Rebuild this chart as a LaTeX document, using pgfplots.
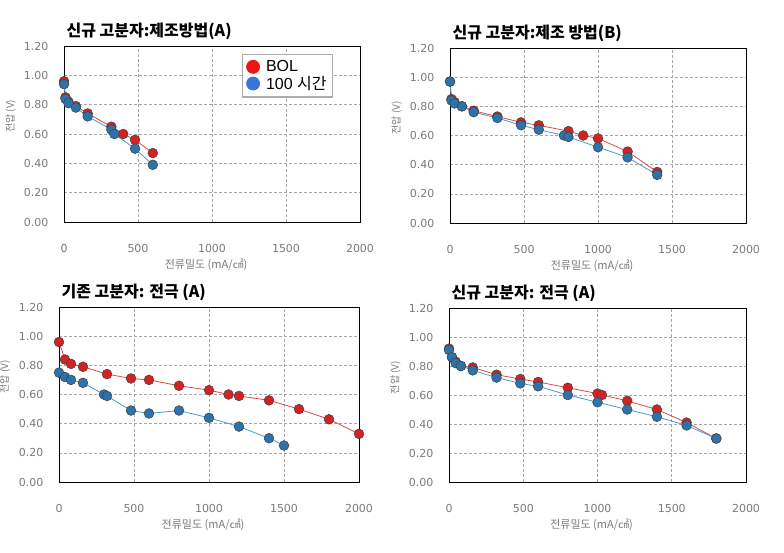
\documentclass[border=0pt]{standalone}
\usepackage{fontspec}
\setmainfont{Liberation Sans}
\newfontfamily\kr{Noto Sans CJK KR}
\newfontfamily\dv{DejaVu Sans}
\usepackage{pgfplots}
\pgfplotsset{compat=1.18}
\definecolor{bolred}{HTML}{D42222}
\definecolor{bolline}{HTML}{E04848}
\definecolor{hblue}{HTML}{2E72AA}
\definecolor{hline}{HTML}{4A9ACC}
\definecolor{legred}{HTML}{EE1515}
\definecolor{legblue}{HTML}{3A74DA}
\definecolor{txtgray}{HTML}{7A7A7A}
\pgfplotsset{
  panel/.style={
    scale only axis,
    xmin=0, xmax=2000, ymin=0, ymax=1.2,
    xtick={0,500,1000,1500,2000},
    ytick={0,0.2,0.4,0.6,0.8,1.0,1.2},
    grid=major,
    major grid style={densely dashed, gray!70, line width=0.6pt},
    axis line style={black, line width=0.8pt},
    tick style={draw=none},
    /pgf/number format/assume math mode=true,
    yticklabel style={/pgf/number format/fixed, /pgf/number format/fixed zerofill,
      /pgf/number format/precision=2, font=\dv\fontsize{11}{12}\selectfont, text=txtgray, xshift=-12pt},
    xticklabel style={/pgf/number format/set thousands separator={}, font=\dv\fontsize{11}{12}\selectfont, text=txtgray, yshift=-19pt},
    xlabel={\kr 전류밀도 (mA/㎠)},
    ylabel={\kr 전압 (V)},
    xlabel style={font=\fontsize{11}{12}\selectfont, text=txtgray, at={(axis description cs:0.48,-0.245)}, anchor=center},
    ylabel style={font=\fontsize{10}{11}\selectfont, text=txtgray, at={(axis description cs:-0.18,0.6)}, anchor=center},
    title style={font=\kr\bfseries\fontsize{16}{18}\selectfont, anchor=south west, at={(0,1)}, yshift=-3pt, xshift=-1pt},
  },
  bol/.style={color=bolline, line width=0.8pt, mark=*, mark size=4.9pt,
    mark options={fill=bolred, draw=black!75, line width=0.5pt}},
  hund/.style={color=hline, line width=0.8pt, mark=*, mark size=4.9pt,
    mark options={fill=hblue, draw=black!75, line width=0.5pt}},
}
\begin{document}
\begin{tikzpicture}
\path[use as bounding box] (0pt,0pt) rectangle (784pt,552pt);

% top left
\begin{axis}[panel, at={(64pt,330pt)}, anchor=south west, width=296pt, height=176pt,
  title={신규 고분자:제조방법(A)},
  legend style={at={(0.60,0.955)}, anchor=north west, draw=gray!65, line width=1.2pt,
    font=\fontsize{16}{18}\selectfont, row sep=-1pt, inner xsep=4pt, inner ysep=4pt,
    /tikz/every even column/.append style={column sep=0pt}},
  legend cell align=left]
\addplot[bol, legend image code/.code={\fill[legred] (0.2em,0) circle (6.5pt);}] coordinates {(0,0.96) (10,0.85) (30,0.82) (80,0.79) (160,0.74) (320,0.65) (400,0.60) (480,0.56) (600,0.47)};
\addlegendentry{\hspace{4pt}BOL}
\addplot[hund, legend image code/.code={\fill[legblue] (0.2em,0) circle (6.5pt);}] coordinates {(0,0.94) (10,0.84) (30,0.81) (80,0.78) (160,0.72) (320,0.63) (340,0.60) (480,0.50) (600,0.39)};
\addlegendentry{\hspace{4pt}100 {\kr 시간}}
\end{axis}

% top right
\begin{axis}[panel, at={(450pt,329pt)}, anchor=south west, width=296pt, height=175pt,
  title={신규 고분자:제조 방법(B)}]
\addplot[bol] coordinates {(0,0.97) (10,0.85) (30,0.83) (80,0.80) (160,0.77) (320,0.73) (480,0.69) (600,0.67) (800,0.63) (900,0.60) (1000,0.58) (1200,0.49) (1400,0.35)};
\addplot[hund] coordinates {(0,0.97) (10,0.84) (30,0.82) (80,0.80) (160,0.76) (320,0.72) (480,0.67) (600,0.64) (770,0.60) (800,0.59) (1000,0.52) (1200,0.45) (1400,0.33)};
\end{axis}

% bottom left
\begin{axis}[panel, at={(59pt,70pt)}, anchor=south west, width=300pt, height=175pt,
  title={기존 고분자: 전극 (A)}]
\addplot[bol] coordinates {(0,0.96) (40,0.84) (80,0.81) (160,0.79) (320,0.74) (480,0.71) (600,0.70) (800,0.66) (1000,0.63) (1130,0.60) (1200,0.59) (1400,0.56) (1600,0.50) (1800,0.43) (2000,0.33)};
\addplot[hund] coordinates {(0,0.75) (40,0.72) (80,0.70) (160,0.68) (300,0.60) (320,0.59) (480,0.49) (600,0.47) (800,0.49) (1000,0.44) (1200,0.38) (1400,0.30) (1500,0.25)};
\end{axis}

% bottom right
\begin{axis}[panel, at={(449pt,70pt)}, anchor=south west, width=297pt, height=174pt,
  title={신규 고분자: 전극 (A)}]
\addplot[bol] coordinates {(0,0.92) (20,0.86) (45,0.83) (80,0.80) (160,0.79) (320,0.74) (480,0.71) (600,0.69) (800,0.65) (1000,0.61) (1030,0.60) (1200,0.56) (1400,0.50) (1600,0.41) (1800,0.30)};
\addplot[hund] coordinates {(0,0.91) (20,0.86) (45,0.82) (80,0.80) (160,0.77) (320,0.72) (480,0.68) (600,0.66) (800,0.60) (1000,0.55) (1200,0.50) (1400,0.45) (1600,0.39) (1800,0.30)};
\end{axis}
\end{tikzpicture}
\end{document}
